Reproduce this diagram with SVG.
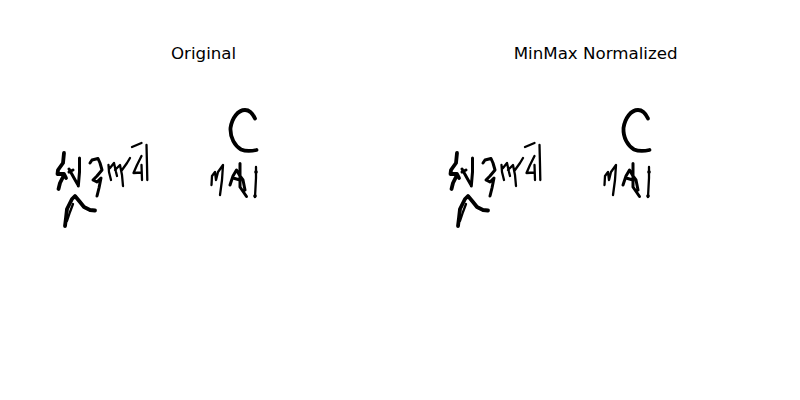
<svg xmlns="http://www.w3.org/2000/svg" width="800" height="400" viewBox="0 0 800 400">
<style>
text{font-family:"DejaVu Sans",sans-serif;font-size:16.67px;fill:#000;text-anchor:middle}
.s{fill:none;stroke:#000;stroke-linecap:round;stroke-linejoin:round;stroke-width:3}
.t{stroke-width:2.3}
.c{stroke-width:3.8}
</style>
<defs>
<filter id="soft" x="-5%" y="-5%" width="110%" height="110%"><feGaussianBlur stdDeviation="0.4"/></filter>
<g id="ink" filter="url(#soft)">
<path class="s c" d="M64 153L63 163L58 170L57.500 174L64 174L66 178"/>
<path class="s c" d="M63 177L60 183L58.500 189"/>
<path class="s" d="M79.500 158L79.500 172L78.300 186M69 169L74 178L78 185M69 172L73 170"/>
<path class="s" d="M90 163L92 160L98 158.500L100 163L102 170L97 176L93 180L97 182L101 178L99 188L97 196"/>
<path class="s t" d="M108.500 165L109 172L111 180M110 168L114 163L116 172L117 176M115 170L120 165L122 175L123 186M122 170L127 163L130 158"/>
<path class="s t" d="M132 147L141.500 143M146.500 145L147 165L147.300 180M141.500 156L137 165L133.500 173L141.500 172.500M141.500 165L142 180"/>
<path class="s c" d="M65 226L66 218L67 209L72 199L75 196L80 202L84 207L90 210L95 210.500"/>
<path class="s t" d="M73 204L70 212L67 221"/>
<path class="s c" d="M255 118.500C252 112 248 110 245 110C238 110 232 118 230.500 128C230 138 235 146 241 149.500C247 152 252 151 256.500 150"/>
<path class="s t" d="M211.500 185L212 176L215 172L216 180L218 172L223 165L222 180L220 195"/>
<path class="s" d="M230 185L233 176L236.500 170L240 176L243 180L245 190M240 163.500L240 187L246.500 196.500M233 178L240 180"/>
<path class="s t" d="M256 167V178L255 197"/>
<circle cx="256" cy="172" r="1.800"/>
<circle cx="255" cy="196" r="1.800"/>
</g>
</defs>
<g id="panel-original">
<text x="203.600" y="58.500">Original</text>
<use href="#ink"/>
</g>
<g id="panel-minmax">
<text x="595.600" y="58.500">MinMax Normalized</text>
<use href="#ink" x="393"/>
</g>
</svg>
